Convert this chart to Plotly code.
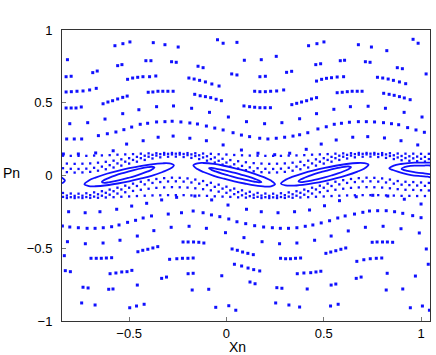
import plotly.graph_objects as go

BLUE = "#1010ff"

# ---- isolated orbit points, upper half ----
top_pts = [
    (-0.573, 0.892), (-0.532, 0.906), (-0.496, 0.918), (-0.376, 0.913), (-0.316, 0.899), (-0.248, 0.883),
    (-0.817, 0.796), (-0.559, 0.755), (-0.537, 0.762), (-0.414, 0.789), (-0.388, 0.789), (-0.282, 0.782), (-0.258, 0.778),
    (-0.824, 0.679), (-0.798, 0.682), (-0.687, 0.707), (-0.664, 0.718),
    (-0.508, 0.661), (-0.482, 0.670), (-0.456, 0.675), (-0.429, 0.679), (-0.395, 0.679), (-0.363, 0.684),
    (-0.824, 0.574), (-0.797, 0.576), (-0.768, 0.579), (-0.737, 0.581), (-0.703, 0.588), (-0.669, 0.599),
    (-0.634, 0.493), (-0.609, 0.505), (-0.585, 0.514), (-0.559, 0.526), (-0.533, 0.537), (-0.510, 0.546),
    (-0.402, 0.572), (-0.378, 0.574), (-0.352, 0.579), (-0.327, 0.579), (-0.301, 0.579), (-0.274, 0.579),
    (-0.824, 0.464), (-0.798, 0.464), (-0.773, 0.464), (-0.746, 0.471),
    (-0.359, 0.473), (-0.272, 0.478), (-0.533, 0.425), (-0.450, 0.452),
    (-0.805, 0.356), (-0.713, 0.363), (-0.624, 0.388),
    (-0.443, 0.352), (-0.405, 0.359), (-0.359, 0.368), (-0.316, 0.370), (-0.279, 0.373), (-0.234, 0.368),
    (-0.046, 0.933), (-0.017, 0.909), (0.054, 0.915), (0.422, 0.892),
    (0.092, 0.792), (0.179, 0.796), (0.256, 0.819),
    (-0.146, 0.751), (-0.120, 0.741),
    (-0.193, 0.670), (-0.166, 0.663), (-0.138, 0.654), (-0.108, 0.643), (-0.075, 0.629), (-0.038, 0.615),
    (0.027, 0.698), (0.054, 0.691), (0.172, 0.679), (0.200, 0.682), (0.309, 0.709), (0.335, 0.716),
    (-0.163, 0.558), (-0.135, 0.548), (-0.108, 0.542), (-0.081, 0.535), (-0.053, 0.524), (-0.026, 0.514),
    (0.145, 0.579), (0.172, 0.576), (0.200, 0.576), (0.227, 0.579), (0.258, 0.581), (0.294, 0.588),
    (0.090, 0.478), (0.119, 0.473), (0.145, 0.469), (0.172, 0.466), (0.198, 0.466), (0.226, 0.466),
    (0.336, 0.487), (0.361, 0.496), (0.386, 0.505), (0.412, 0.514),
    (-0.179, 0.462), (-0.087, 0.434), (0.010, 0.402), (0.103, 0.370), (0.196, 0.356), (0.285, 0.363), (0.376, 0.390),
    (-0.188, 0.361), (-0.149, 0.354),
    (0.465, 0.906), (0.501, 0.918), (0.678, 0.899), (0.745, 0.883), (0.824, 0.858), (0.959, 0.936), (0.985, 0.909),
    (0.585, 0.789), (0.607, 0.792), (0.459, 0.762), (0.484, 0.768), (0.714, 0.782), (0.738, 0.778),
    (0.878, 0.741), (0.904, 0.734), (1.026, 0.698),
    (0.463, 0.649), (0.489, 0.661), (0.514, 0.668), (0.540, 0.672), (0.569, 0.677), (0.602, 0.679),
    (0.776, 0.675), (0.803, 0.670), (0.831, 0.663), (0.858, 0.654), (0.889, 0.643), (0.921, 0.631),
    (0.569, 0.569), (0.595, 0.572), (0.621, 0.576), (0.646, 0.579), (0.672, 0.579), (0.697, 0.579),
    (0.808, 0.565), (0.836, 0.558), (0.862, 0.551), (0.889, 0.542), (0.914, 0.533), (0.944, 0.521),
    (0.437, 0.526), (0.463, 0.535),
    (0.463, 0.425), (0.552, 0.455), (0.637, 0.473), (0.728, 0.476), (0.817, 0.462), (0.913, 0.434), (1.005, 0.402),
    (0.554, 0.352), (0.591, 0.359), (0.632, 0.366), (0.678, 0.370), (0.719, 0.370), (0.761, 0.368),
    (0.807, 0.363), (0.848, 0.356), (0.885, 0.349),
]

# rows just above the resonance band
band_top_pts = [
    (-0.658, 0.274), (-0.612, 0.287), (-0.568, 0.299), (-0.527, 0.315), (-0.487, 0.333),
    (-0.821, 0.251), (-0.782, 0.251), (-0.744, 0.251),
    (-0.513, 0.216), (-0.428, 0.239), (-0.351, 0.263), (-0.274, 0.271),
    (-0.838, 0.148), (-0.761, 0.148), (-0.672, 0.155), (-0.582, 0.170),
    (-0.103, 0.340), (-0.060, 0.326), (-0.017, 0.313), (0.034, 0.294), (0.077, 0.278), (0.119, 0.267),
    (0.171, 0.256), (0.213, 0.251), (0.256, 0.256), (0.299, 0.263), (0.342, 0.271), (0.376, 0.280), (0.418, 0.294),
    (0.470, 0.320), (0.513, 0.335), (0.931, 0.329), (0.974, 0.313), (1.017, 0.297),
    (-0.188, 0.256), (-0.103, 0.239), (-0.017, 0.210), (0.077, 0.175), (0.162, 0.153), (0.248, 0.143), (0.325, 0.153),
    (0.410, 0.180), (0.487, 0.216), (0.564, 0.244), (0.649, 0.263), (0.726, 0.267), (0.812, 0.258),
    (0.897, 0.239), (0.983, 0.210),
]

# rows just below the resonance band
band_bottom_pts = [
    (-0.811, -0.249), (-0.726, -0.256), (-0.650, -0.249), (-0.564, -0.232), (-0.487, -0.210),
    (-0.410, -0.191), (-0.333, -0.168), (-0.256, -0.150),
    (-0.162, -0.141), (-0.076, -0.168), (0.008, -0.203),
    (0.103, -0.232), (0.179, -0.249), (0.265, -0.256), (0.350, -0.249),
    (0.427, -0.237), (0.504, -0.208), (0.581, -0.173), (0.667, -0.146), (0.752, -0.136), (0.829, -0.141),
    (0.914, -0.163), (1.000, -0.196),
    (-0.299, -0.265), (-0.231, -0.256), (-0.171, -0.244), (-0.120, -0.256),
    (0.658, -0.265), (0.701, -0.253), (0.735, -0.244), (0.777, -0.242), (0.821, -0.242), (0.864, -0.249),
    (0.906, -0.260), (0.957, -0.276), (1.000, -0.290),
]

# isolated orbit points, lower half
bottom_pts = [
    (-0.843, -0.347), (-0.805, -0.354), (-0.761, -0.359), (-0.716, -0.363), (-0.675, -0.363), (-0.633, -0.359),
    (-0.590, -0.352), (-0.552, -0.340), (-0.508, -0.322), (-0.467, -0.308), (-0.428, -0.292), (-0.385, -0.278),
    (-0.077, -0.271), (-0.034, -0.283), (0.012, -0.299), (0.054, -0.318), (0.099, -0.331), (0.145, -0.345),
    (0.191, -0.354), (0.236, -0.359), (0.277, -0.363), (0.319, -0.363), (0.362, -0.359), (0.405, -0.349),
    (0.444, -0.340), (0.487, -0.326), (0.530, -0.311), (0.572, -0.292), (0.610, -0.278),
    (-0.817, -0.455), (-0.725, -0.469), (-0.634, -0.464), (-0.547, -0.445), (-0.458, -0.416), (-0.373, -0.379), (-0.284, -0.356),
    (-0.192, -0.349), (-0.103, -0.363), (-0.005, -0.393), (0.090, -0.427), (0.183, -0.455), (0.273, -0.469), (0.362, -0.464),
    (0.453, -0.445), (0.538, -0.416), (0.626, -0.381), (0.714, -0.356), (0.805, -0.349), (0.897, -0.366), (0.991, -0.395),
    (-0.833, -0.551),
    (-0.696, -0.569), (-0.669, -0.569), (-0.643, -0.569), (-0.617, -0.567), (-0.590, -0.565),
    (-0.455, -0.524), (-0.430, -0.514), (-0.404, -0.507), (-0.378, -0.498), (-0.353, -0.489),
    (-0.292, -0.576), (-0.255, -0.572), (-0.226, -0.569),
    (-0.828, -0.654), (-0.802, -0.661),
    (-0.598, -0.675), (-0.568, -0.670), (-0.538, -0.663), (-0.511, -0.661), (-0.486, -0.652),
    (-0.333, -0.707), (-0.308, -0.698),
    (-0.737, -0.768), (-0.711, -0.773), (-0.605, -0.782), (-0.583, -0.780), (-0.458, -0.753),
    (-0.744, -0.876), (-0.675, -0.890), (-0.497, -0.909), (-0.462, -0.897), (-0.423, -0.885),
    (-0.223, -0.457), (-0.197, -0.457), (-0.169, -0.457), (-0.142, -0.459), (-0.116, -0.464),
    (0.029, -0.505), (0.056, -0.514), (0.083, -0.526), (0.110, -0.535), (0.138, -0.544),
    (0.278, -0.569), (0.304, -0.572), (0.329, -0.572), (0.355, -0.569), (0.381, -0.567),
    (-0.198, -0.569), (-0.171, -0.567),
    (0.041, -0.610), (0.078, -0.622), (0.111, -0.636), (0.140, -0.647), (0.171, -0.656),
    (-0.197, -0.675), (-0.171, -0.672), (-0.024, -0.689), (0.364, -0.675), (0.398, -0.670),
    (0.121, -0.732), (0.147, -0.744), (-0.176, -0.787), (-0.091, -0.782),
    (0.259, -0.771), (0.285, -0.775), (0.415, -0.780),
    (-0.055, -0.906), (0.012, -0.895), (0.048, -0.926), (0.253, -0.876), (0.321, -0.890), (0.376, -0.904),
    (0.511, -0.535), (0.536, -0.526), (0.562, -0.517), (0.588, -0.507), (0.613, -0.498),
    (0.749, -0.459), (0.774, -0.457), (0.802, -0.457), (0.827, -0.457), (0.854, -0.459),
    (1.027, -0.505),
    (0.670, -0.590), (0.706, -0.579), (0.739, -0.572), (0.770, -0.569), (0.798, -0.567),
    (1.037, -0.610),
    (0.433, -0.668), (0.460, -0.663), (0.485, -0.658),
    (0.667, -0.707), (0.692, -0.698), (0.826, -0.672), (0.971, -0.691),
    (0.538, -0.753), (0.562, -0.746), (0.821, -0.787), (0.906, -0.780),
    (0.535, -0.897), (0.574, -0.885), (0.945, -0.909), (1.007, -0.897), (1.043, -0.926),
]

# ---- dotted shells of the chaotic layer around the island chain ----
grid_a = [-0.84, -0.80, -0.76, -0.72, -0.68, -0.64, -0.60, -0.56, -0.52, -0.48, -0.44, -0.40,
          -0.36, -0.32, -0.28, -0.24, -0.20, -0.16, -0.12, -0.08, -0.04, 0.00, 0.04, 0.08,
          0.12, 0.16, 0.20, 0.24, 0.28, 0.32, 0.36, 0.40, 0.44, 0.48, 0.52, 0.56, 0.60, 0.64,
          0.68, 0.72, 0.76, 0.80, 0.84, 0.88, 0.92, 0.96, 1.00, 1.04]
grid_b = [-0.82, -0.78, -0.74, -0.70, -0.66, -0.62, -0.58, -0.54, -0.50, -0.46, -0.42, -0.38,
          -0.34, -0.30, -0.26, -0.22, -0.18, -0.14, -0.10, -0.06, -0.02, 0.02, 0.06, 0.10,
          0.14, 0.18, 0.22, 0.26, 0.30, 0.34, 0.38, 0.42, 0.46, 0.50, 0.54, 0.58, 0.62, 0.66,
          0.70, 0.74, 0.78, 0.82, 0.86, 0.90, 0.94, 0.98, 1.02]

shell_u1 = [0.136, 0.135, 0.135, 0.135, 0.137, 0.138, 0.140, 0.143, 0.145, 0.147, 0.150, 0.152,
            0.153, 0.155, 0.155, 0.155, 0.154, 0.153, 0.151, 0.149, 0.146, 0.144, 0.141, 0.139,
            0.137, 0.136, 0.135, 0.135, 0.135, 0.137, 0.138, 0.140, 0.143, 0.145, 0.147, 0.150,
            0.152, 0.153, 0.155, 0.155, 0.155, 0.154, 0.153, 0.151, 0.150, 0.150, 0.149, 0.149]
shell_u3 = [0.050, 0.046, 0.045, 0.047, 0.053, 0.061, 0.071, 0.083, 0.095, 0.107, 0.119, 0.129,
            0.137, 0.143, 0.145, 0.144, 0.140, 0.134, 0.124, 0.113, 0.101, 0.089, 0.077, 0.066,
            0.056, 0.050, 0.046, 0.045, 0.047, 0.053, 0.061, 0.071, 0.083, 0.095, 0.107, 0.119,
            0.129, 0.137, 0.143, 0.145, 0.144, 0.140, 0.134, 0.124, 0.120, 0.118, 0.115, 0.113]
shell_l2 = [-0.147, -0.149, -0.150, -0.148, -0.145, -0.139, -0.132, -0.124, -0.115, -0.106, -0.098, -0.091,
            -0.085, -0.082, -0.080, -0.081, -0.083, -0.088, -0.094, -0.102, -0.111, -0.119, -0.128, -0.136,
            -0.142, -0.147, -0.149, -0.150, -0.148, -0.145, -0.139, -0.132, -0.124, -0.115, -0.106, -0.098,
            -0.091, -0.085, -0.082, -0.080, -0.081, -0.083, -0.088, -0.094, -0.098, -0.099, -0.101, -0.103]
shell_l4 = [-0.120, -0.124, -0.125, -0.122, -0.116, -0.108, -0.097, -0.084, -0.070, -0.056, -0.043, -0.032,
            -0.024, -0.018, -0.015, -0.016, -0.020, -0.028, -0.038, -0.050, -0.063, -0.077, -0.090, -0.102,
            -0.112, -0.120, -0.124, -0.125, -0.122, -0.116, -0.108, -0.097, -0.084, -0.070, -0.056, -0.043,
            -0.032, -0.024, -0.018, -0.015, -0.016, -0.020, -0.028, -0.038, -0.043, -0.045, -0.048, -0.051]
shell_u2 = [0.082, 0.080, 0.081, 0.083, 0.088, 0.094, 0.102, 0.111, 0.119, 0.128, 0.136, 0.142,
            0.147, 0.149, 0.150, 0.148, 0.145, 0.139, 0.132, 0.124, 0.115, 0.106, 0.098, 0.091,
            0.085, 0.082, 0.080, 0.081, 0.083, 0.088, 0.094, 0.102, 0.111, 0.119, 0.128, 0.136,
            0.142, 0.147, 0.149, 0.150, 0.148, 0.145, 0.139, 0.134, 0.132, 0.130, 0.128]
shell_u4 = [0.023, 0.020, 0.021, 0.025, 0.033, 0.043, 0.055, 0.068, 0.082, 0.095, 0.107, 0.117,
            0.125, 0.129, 0.130, 0.127, 0.121, 0.113, 0.102, 0.089, 0.075, 0.061, 0.048, 0.037,
            0.029, 0.023, 0.020, 0.021, 0.025, 0.033, 0.043, 0.055, 0.068, 0.082, 0.095, 0.107,
            0.117, 0.125, 0.129, 0.130, 0.127, 0.121, 0.113, 0.105, 0.101, 0.098, 0.096]
shell_l1 = [-0.155, -0.155, -0.155, -0.154, -0.153, -0.151, -0.149, -0.146, -0.144, -0.141, -0.139, -0.137,
            -0.136, -0.135, -0.135, -0.135, -0.137, -0.138, -0.140, -0.143, -0.145, -0.147, -0.150, -0.152,
            -0.153, -0.155, -0.155, -0.155, -0.154, -0.153, -0.151, -0.149, -0.146, -0.144, -0.141, -0.139,
            -0.137, -0.136, -0.135, -0.135, -0.135, -0.137, -0.138, -0.140, -0.140, -0.141, -0.141]
shell_l3 = [-0.138, -0.140, -0.139, -0.135, -0.129, -0.119, -0.108, -0.096, -0.084, -0.072, -0.061, -0.051,
            -0.045, -0.041, -0.040, -0.042, -0.048, -0.056, -0.066, -0.078, -0.090, -0.102, -0.114, -0.124,
            -0.132, -0.138, -0.140, -0.139, -0.135, -0.129, -0.119, -0.108, -0.096, -0.084, -0.072, -0.061,
            -0.051, -0.045, -0.041, -0.040, -0.042, -0.048, -0.056, -0.063, -0.066, -0.069, -0.071]

# ---- island loops (dense orbits, drawn as closed curves) ----
island_a_outer_x = [-0.73, -0.707, -0.673, -0.615, -0.558, -0.50, -0.443, -0.385, -0.328, -0.293, -0.27,
                    -0.293, -0.328, -0.385, -0.443, -0.50, -0.558, -0.615, -0.673, -0.707, -0.73]
island_a_outer_y = [-0.060, -0.034, -0.014, 0.012, 0.032, 0.050, 0.065, 0.077, 0.084, 0.083, 0.070,
                    0.044, 0.024, -0.002, -0.022, -0.040, -0.055, -0.067, -0.074, -0.073, -0.060]
island_a_inner_x = [-0.64, -0.627, -0.606, -0.573, -0.539, -0.505, -0.471, -0.438, -0.404, -0.384, -0.37,
                    -0.384, -0.404, -0.438, -0.471, -0.505, -0.539, -0.573, -0.606, -0.627, -0.64]
island_a_inner_y = [-0.045, -0.030, -0.018, -0.001, 0.014, 0.027, 0.039, 0.049, 0.057, 0.060, 0.055,
                    0.040, 0.028, 0.011, -0.004, -0.017, -0.029, -0.039, -0.047, -0.050, -0.045]
island_b_outer_x = [-0.17, -0.149, -0.118, -0.065, -0.013, 0.04, 0.093, 0.145, 0.198, 0.229, 0.25,
                    0.229, 0.198, 0.145, 0.093, 0.04, -0.013, -0.065, -0.118, -0.149, -0.17]
island_b_outer_y = [0.070, 0.084, 0.086, 0.080, 0.067, 0.051, 0.033, 0.011, -0.015, -0.035, -0.060,
                    -0.074, -0.076, -0.068, -0.055, -0.040, -0.022, -0.002, 0.024, 0.044, 0.070]
island_b_inner_x = [-0.09, -0.077, -0.056, -0.023, 0.011, 0.045, 0.079, 0.113, 0.146, 0.167, 0.18,
                    0.167, 0.146, 0.113, 0.079, 0.045, 0.011, -0.023, -0.056, -0.077, -0.09]
island_b_inner_y = [0.050, 0.052, 0.048, 0.039, 0.029, 0.018, 0.005, -0.008, -0.023, -0.034, -0.045,
                    -0.047, -0.043, -0.034, -0.024, -0.013, 0.000, 0.013, 0.028, 0.039, 0.050]
island_c_outer_x = [0.28, 0.303, 0.337, 0.393, 0.449, 0.505, 0.561, 0.617, 0.673, 0.707, 0.73,
                    0.707, 0.673, 0.617, 0.561, 0.505, 0.449, 0.393, 0.337, 0.303, 0.28]
island_c_outer_y = [-0.055, -0.030, -0.010, 0.015, 0.035, 0.052, 0.067, 0.079, 0.086, 0.085, 0.075,
                    0.047, 0.027, 0.001, -0.020, -0.038, -0.053, -0.064, -0.070, -0.068, -0.055]
island_c_inner_x = [0.37, 0.383, 0.404, 0.437, 0.471, 0.505, 0.539, 0.573, 0.606, 0.627, 0.64,
                    0.627, 0.606, 0.573, 0.539, 0.505, 0.471, 0.437, 0.404, 0.383, 0.37]
island_c_inner_y = [-0.040, -0.026, -0.014, 0.003, 0.018, 0.030, 0.042, 0.052, 0.060, 0.062, 0.058,
                    0.043, 0.031, 0.014, 0.000, -0.013, -0.025, -0.035, -0.042, -0.045, -0.040]
island_d_outer_x = [0.837, 0.86, 0.897, 0.935, 0.966, 1.00, 1.034, 1.07, 1.07, 1.034, 1.00, 0.949,
                    0.91, 0.88, 0.855, 0.837]
island_d_outer_y = [0.049, 0.068, 0.079, 0.085, 0.088, 0.089, 0.088, 0.085, -0.015, -0.008, -0.004, 0.003,
                    0.014, 0.026, 0.038, 0.049]
island_d_inner_x = [0.90, 0.93, 0.97, 1.01, 1.05, 1.05, 1.01, 0.97, 0.93, 0.90]
island_d_inner_y = [0.045, 0.062, 0.068, 0.068, 0.066, 0.012, 0.016, 0.022, 0.031, 0.045]
island_e_x = [-0.87, -0.855, -0.84, -0.83, -0.84, -0.855, -0.87]
island_e_y = [0.000, -0.010, -0.020, -0.035, -0.050, -0.055, -0.060]


def unzip(pts):
    return [p[0] for p in pts], [p[1] for p in pts]


fig = go.Figure()

dot_style = dict(mode="markers", marker=dict(symbol="square", size=3, color=BLUE, line=dict(width=0)),
                 hoverinfo="skip", showlegend=False)
for pts in (top_pts, band_top_pts, band_bottom_pts, bottom_pts):
    xs, ys = unzip(pts)
    fig.add_trace(go.Scatter(x=xs, y=ys, **dot_style))

shell_style = dict(mode="markers", marker=dict(symbol="square", size=2.3, color=BLUE, line=dict(width=0)),
                   hoverinfo="skip", showlegend=False)
for ys in (shell_u1, shell_u3, shell_l2, shell_l4):
    fig.add_trace(go.Scatter(x=grid_a, y=ys, **shell_style))
for ys in (shell_u2, shell_u4, shell_l1, shell_l3):
    fig.add_trace(go.Scatter(x=grid_b, y=ys, **shell_style))

loops = [
    (island_a_outer_x, island_a_outer_y), (island_a_inner_x, island_a_inner_y),
    (island_b_outer_x, island_b_outer_y), (island_b_inner_x, island_b_inner_y),
    (island_c_outer_x, island_c_outer_y), (island_c_inner_x, island_c_inner_y),
    (island_d_outer_x, island_d_outer_y), (island_d_inner_x, island_d_inner_y),
    (island_e_x, island_e_y),
]
for lx, ly in loops:
    fig.add_trace(go.Scatter(x=lx, y=ly, mode="lines", line=dict(color=BLUE, width=1.8, shape="spline"),
                             hoverinfo="skip", showlegend=False))

axis_common = dict(
    showgrid=False, zeroline=False, showline=True, mirror=True, linecolor="#333333", linewidth=1,
    ticks="inside", ticklen=4, tickcolor="#777777", tickfont=dict(size=13, color="black"),
)

fig.update_layout(
    width=436, height=355,
    margin=dict(l=62, r=6, t=30, b=34),
    plot_bgcolor="white", paper_bgcolor="white",
    font=dict(family="Liberation Sans, Arial, sans-serif", size=13, color="black"),
    showlegend=False,
    xaxis=dict(range=[-0.845, 1.046], tickvals=[-0.5, 0, 0.5, 1], **axis_common),
    yaxis=dict(range=[-1, 1], tickvals=[-1, -0.5, 0, 0.5, 1], ticklabelstandoff=6, **axis_common),
    annotations=[
        dict(text="Xn", xref="paper", yref="paper", x=0.476, y=-0.089, showarrow=False,
             xanchor="center", yanchor="middle", font=dict(size=14)),
        dict(text="Pn", xref="paper", yref="paper", x=-0.136, y=0.51, showarrow=False,
             xanchor="center", yanchor="middle", font=dict(size=14)),
    ],
)

# drop the browser's default body margin so the figure fills the window exactly
fig.write_html("out.html", config={"displayModeBar": False},
               post_script="document.body.style.margin='0px';")
